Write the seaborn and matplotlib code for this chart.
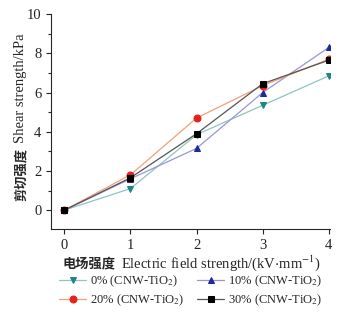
import pandas as pd
import seaborn as sns
import matplotlib.pyplot as plt

# data
field = [0, 1, 2, 3, 4]
s0 = [0.0, 1.1, 3.85, 5.35, 6.85]
s10 = [0.0, 1.6, 3.15, 6.0, 8.3]
s20 = [0.0, 1.8, 4.7, 6.35, 7.7]
s30 = [0.0, 1.65, 3.9, 6.45, 7.65]
labels = ['0% (CNW-TiO$_2$)', '10% (CNW-TiO$_2$)', '20% (CNW-TiO$_2$)', '30% (CNW-TiO$_2$)']

sns.set_style("ticks")
plt.rcParams['font.family'] = ['Liberation Serif', 'Noto Sans CJK SC']
plt.rcParams['mathtext.fontset'] = 'stix'
plt.rcParams['font.size'] = 10.5

fig = plt.figure(figsize=(3.45, 3.13), dpi=100)
ax = fig.add_axes([0.148, 0.269, 0.809, 0.686])

series = [s0, s10, s20, s30]
line_colors = ['#8fc4c4', '#9a94d6', '#f2a07a', '#555555']
mark_colors = ['#1f8585', '#1e2a9c', '#e8201a', '#000000']
markers = ['v', '^', 'o', 's']

for vals, lab, lc, mc, mk in zip(series, labels, line_colors, mark_colors, markers):
    df = pd.DataFrame({'x': field, 'y': vals})
    sns.lineplot(data=df, x='x', y='y', ax=ax, color=lc, lw=0.9, marker=mk,
                 markersize=5, markerfacecolor=mc, markeredgecolor=mc, label=lab)

ax.set_xlim(-0.2, 4.02)
ax.set_ylim(-0.95, 10)
ax.set_xticks([0, 1, 2, 3, 4])
ax.set_yticks([0, 2, 4, 6, 8, 10])
ax.set_yticks([1, 3, 5, 7, 9], minor=True)
ax.tick_params(axis='both', direction='out', length=3.5, width=0.8, labelsize=10.5, colors='#222222')
ax.tick_params(axis='y', which='minor', length=2, width=0.8)
for sp in ['top', 'right']:
    ax.spines[sp].set_visible(False)
for sp in ['left', 'bottom']:
    ax.spines[sp].set_linewidth(0.8)

# english part as the axis label, bold chinese part put in front of it
ax.set_xlabel('Electric field strength/(kV$\\cdot$mm$^{-1}$)', fontsize=10.5)
ax.xaxis.set_label_coords(0.61, -0.115)
ax.set_ylabel('Shear strength/kPa', fontsize=10.5)
ax.yaxis.set_label_coords(-0.085, 0.655)
ax.annotate('电场强度', xy=(0, 0.5), xycoords=ax.xaxis.label, xytext=(-4, 0),
            textcoords='offset points', ha='right', va='center',
            family='Noto Sans CJK SC', fontweight='bold', fontsize=9.5)
ax.annotate('剪切强度', xy=(0.5, 0), xycoords=ax.yaxis.label, xytext=(0, -4),
            textcoords='offset points', ha='center', va='top', rotation=90,
            family='Noto Sans CJK SC', fontweight='bold', fontsize=9.5)

# row-major legend order like the original
h, l = ax.get_legend_handles_labels()
order = [0, 2, 1, 3]
ax.legend([h[i] for i in order], [l[i] for i in order], loc='upper center',
          bbox_to_anchor=(0.5, -0.185), ncol=2, frameon=False,
          fontsize=9, handlelength=2.2, columnspacing=1.0, labelspacing=0.3,
          handletextpad=0.3, borderaxespad=0)

fig.savefig('out.png', dpi=100)
